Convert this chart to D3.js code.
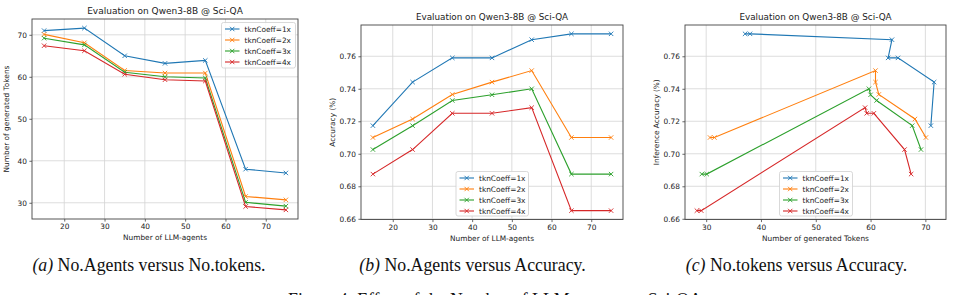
<!DOCTYPE html>
<html><head><meta charset="utf-8">
<script src="https://cdn.jsdelivr.net/npm/d3@7"></script>
<style>body{margin:0;background:#fff}svg{display:block}</style>
</head><body><svg id="chart" width="954" height="295"></svg>
<script>
// ---------- data ----------
const agents = [15, 25, 35, 45, 55, 65, 75];
const seriesNames = ["tknCoeff=1x", "tknCoeff=2x", "tknCoeff=3x", "tknCoeff=4x"];
const tokens1x = [71.0, 71.6, 65.0, 63.2, 63.9, 38.0, 37.1];
const tokens2x = [70.1, 68.1, 61.5, 60.9, 60.9, 31.5, 30.7];
const tokens3x = [69.2, 67.6, 61.1, 60.0, 59.7, 30.1, 29.2];
const tokens4x = [67.4, 66.2, 60.6, 59.3, 59.0, 29.1, 28.3];
const acc1x = [0.7173, 0.7441, 0.7590, 0.7590, 0.7702, 0.7738, 0.7738];
const acc2x = [0.7100, 0.7214, 0.7365, 0.7441, 0.7512, 0.7100, 0.7100];
const acc3x = [0.7026, 0.7173, 0.7328, 0.7363, 0.7400, 0.6875, 0.6875];
const acc4x = [0.6875, 0.7026, 0.7249, 0.7249, 0.7284, 0.6650, 0.6650];
const agentTicks = [20, 30, 40, 50, 60, 70];
const tokenTicksY = [30, 40, 50, 60, 70];
const tokenTicksX = [30, 40, 50, 60, 70];
const accTicks = [0.66, 0.68, 0.70, 0.72, 0.74, 0.76];
const titleText = "Evaluation on Qwen3-8B @ Sci-QA";
const captions = [["(a)", " No.Agents versus No.tokens."], ["(b)", " No.Agents versus Accuracy."], ["(c)", " No.tokens versus Accuracy."]];
const figureCaption = "Figure 4: Effect of the Number of LLM-agents on Sci-QA";

const colors = ["#1f77b4", "#ff7f0e", "#2ca02c", "#d62728"];
const tokens = [tokens1x, tokens2x, tokens3x, tokens4x];
const accs = [acc1x, acc2x, acc3x, acc4x];

const svg = d3.select("#chart");
const FONT = "DejaVu Sans, sans-serif";

function padExtent(vals) {
  const [a, b] = d3.extent(vals);
  const m = (b - a) * 0.05;
  return [a - m, b + m];
}

function drawPanel(cfg) {
  const g = svg.append("g");
  const x = d3.scaleLinear().domain(padExtent(cfg.xAll)).range([cfg.l, cfg.r]);
  const y = d3.scaleLinear().domain(padExtent(cfg.yAll)).range([cfg.b, cfg.t]);
  // grid
  g.selectAll(".gx").data(cfg.xTicks).join("line")
    .attr("x1", d => x(d)).attr("x2", d => x(d)).attr("y1", cfg.t).attr("y2", cfg.b)
    .attr("stroke", "#d4d4d4").attr("stroke-width", 0.8);
  g.selectAll(".gy").data(cfg.yTicks).join("line")
    .attr("x1", cfg.l).attr("x2", cfg.r).attr("y1", d => y(d)).attr("y2", d => y(d))
    .attr("stroke", "#d4d4d4").attr("stroke-width", 0.8);
  // series
  const line = d3.line().x(d => x(d[0])).y(d => y(d[1]));
  cfg.series.forEach((s, i) => {
    const pts = s.xs.map((v, k) => [v, s.ys[k]]);
    g.append("path").datum(pts).attr("d", line).attr("fill", "none")
      .attr("stroke", colors[i]).attr("stroke-width", 1.1);
    const ms = 2.2;
    g.selectAll(null).data(pts).join("path")
      .attr("d", d => {
        const px = x(d[0]), py = y(d[1]);
        return `M${px - ms},${py - ms}L${px + ms},${py + ms}M${px - ms},${py + ms}L${px + ms},${py - ms}`;
      })
      .attr("stroke", colors[i]).attr("stroke-width", 0.9).attr("fill", "none");
  });
  // spines
  g.append("rect").attr("x", cfg.l).attr("y", cfg.t).attr("width", cfg.r - cfg.l).attr("height", cfg.b - cfg.t)
    .attr("fill", "none").attr("stroke", "#444").attr("stroke-width", 0.9);
  // axes
  const xa = d3.axisBottom(x).tickValues(cfg.xTicks).tickSize(2.6).tickPadding(2.5).tickFormat(cfg.xFmt);
  const ya = d3.axisLeft(y).tickValues(cfg.yTicks).tickSize(2.6).tickPadding(2.5).tickFormat(cfg.yFmt);
  const gx = g.append("g").attr("transform", `translate(0,${cfg.b})`).call(xa);
  const gy = g.append("g").attr("transform", `translate(${cfg.l},0)`).call(ya);
  [gx, gy].forEach(a => {
    a.select(".domain").remove();
    a.selectAll("line").attr("stroke", "#444").attr("stroke-width", 0.8);
    a.selectAll("text").attr("font-family", FONT).attr("font-size", 7.4).attr("fill", "#222");
  });
  // title
  g.append("text").attr("x", (cfg.l + cfg.r) / 2).attr("y", cfg.t - 4.6)
    .attr("text-anchor", "middle").attr("font-family", FONT).attr("font-size", cfg.titleSize).attr("fill", "#222")
    .text(titleText);
  // axis labels
  g.append("text").attr("x", (cfg.l + cfg.r) / 2).attr("y", cfg.b + 21)
    .attr("text-anchor", "middle").attr("font-family", FONT).attr("font-size", 7.4).attr("fill", "#222")
    .text(cfg.xLabel);
  g.append("text").attr("transform", `translate(${cfg.ylx},${(cfg.t + cfg.b) / 2}) rotate(-90)`)
    .attr("text-anchor", "middle").attr("font-family", FONT).attr("font-size", 7.4).attr("fill", "#222")
    .text(cfg.yLabel);
  // legend
  const L = cfg.legend;
  g.append("rect").attr("x", L.x).attr("y", L.y).attr("width", L.w).attr("height", L.h).attr("rx", 2)
    .attr("fill", "#fff").attr("fill-opacity", 0.85).attr("stroke", "#cfcfcf").attr("stroke-width", 0.8);
  seriesNames.forEach((n, i) => {
    const cy = L.y + 6.5 + i * 11;
    g.append("line").attr("x1", L.x + 3.5).attr("x2", L.x + 18).attr("y1", cy).attr("y2", cy)
      .attr("stroke", colors[i]).attr("stroke-width", 1.1);
    const mx = L.x + 10.7, ms = 2.2;
    g.append("path").attr("d", `M${mx - ms},${cy - ms}L${mx + ms},${cy + ms}M${mx - ms},${cy + ms}L${mx + ms},${cy - ms}`)
      .attr("stroke", colors[i]).attr("stroke-width", 0.9);
    g.append("text").attr("x", L.x + 23).attr("y", cy + 2.7).attr("font-family", FONT).attr("font-size", 7.4)
      .attr("fill", "#222").text(n);
  });
}

const allTokens = tokens.flat();
const allAcc = accs.flat();

drawPanel({
  l: 32, t: 19, r: 298, b: 219, titleSize: 9,
  xAll: agents, yAll: allTokens, xTicks: agentTicks, yTicks: tokenTicksY,
  xFmt: d3.format("d"), yFmt: d3.format("d"),
  series: tokens.map(t => ({xs: agents, ys: t})),
  xLabel: "Number of LLM-agents", yLabel: "Number of generated Tokens", ylx: 9,
  legend: {x: 221.5, y: 22.5, w: 74, h: 45.5}
});
drawPanel({
  l: 361, t: 25, r: 623, b: 219.5, titleSize: 8.8,
  xAll: agents, yAll: allAcc, xTicks: agentTicks, yTicks: accTicks,
  xFmt: d3.format("d"), yFmt: d3.format(".2f"),
  series: accs.map(a => ({xs: agents, ys: a})),
  xLabel: "Number of LLM-agents", yLabel: "Accuracy (%)", ylx: 335,
  legend: {x: 456, y: 171.5, w: 72.5, h: 44.5}
});
drawPanel({
  l: 685, t: 25, r: 946, b: 219.5, titleSize: 8.8,
  xAll: allTokens, yAll: allAcc, xTicks: tokenTicksX, yTicks: accTicks,
  xFmt: d3.format("d"), yFmt: d3.format(".2f"),
  series: tokens.map((t, i) => ({xs: t, ys: accs[i]})),
  xLabel: "Number of generated Tokens", yLabel: "Inference Accuracy (%)", ylx: 659,
  legend: {x: 779.5, y: 171.5, w: 73, h: 44.5}
});

// sub-captions
const capX = [149, 472.5, 796.5];
captions.forEach((c, i) => {
  const t = svg.append("text").attr("x", capX[i]).attr("y", 271).attr("text-anchor", "middle")
    .attr("font-family", "Liberation Serif, Times New Roman, serif").attr("font-size", 17.8).attr("fill", "#111");
  t.append("tspan").attr("font-style", "italic").text(c[0]);
  t.append("tspan").text(c[1]);
});
svg.append("text").attr("x", 495).attr("y", 305.5).attr("text-anchor", "middle")
  .attr("font-family", "Liberation Serif, Times New Roman, serif").attr("font-size", 17.8).attr("fill", "#111")
  .text(figureCaption);
</script>
</body></html>
